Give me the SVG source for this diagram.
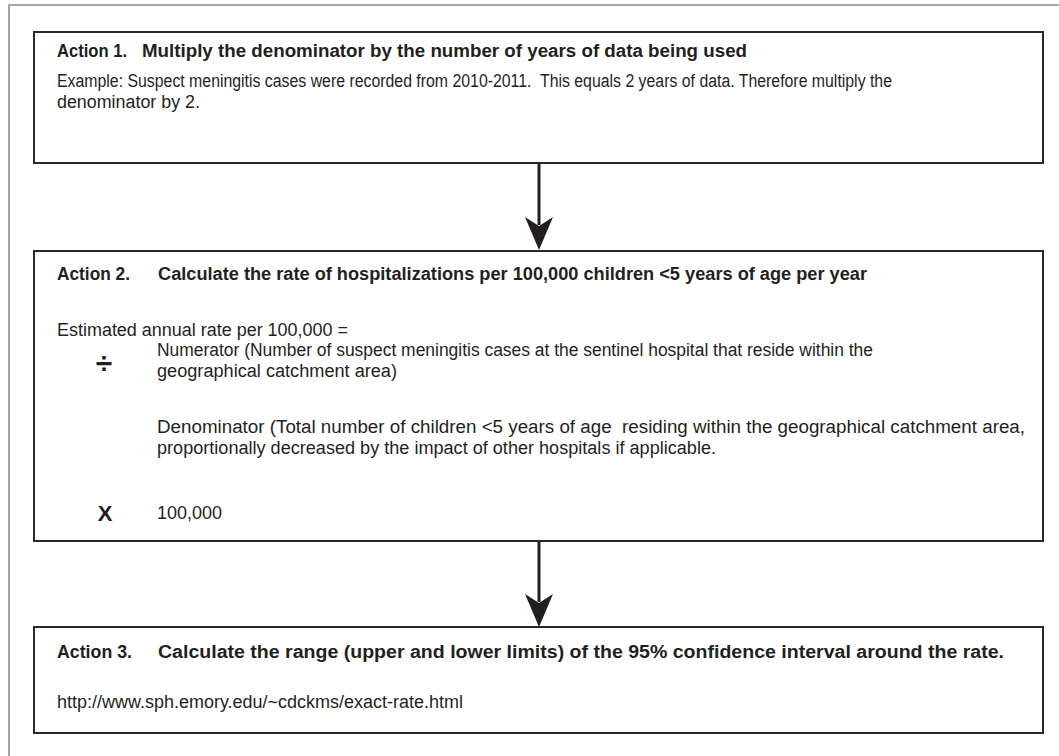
<svg xmlns="http://www.w3.org/2000/svg" width="1059" height="756" viewBox="0 0 1059 756">
<style>
.box{fill:#fff;stroke:#2a2a2a;stroke-width:2}
.t{font-family:"Liberation Sans",Arial,sans-serif;font-size:18px;fill:#231f20}
.b{font-weight:bold}
.sym{font-family:"Liberation Sans",Arial,sans-serif;font-weight:bold;fill:#231f20}
.conn{stroke:#231f20;stroke-width:3;fill:none}
.head{fill:#231f20}
</style>
<rect x="0" y="0" width="1059" height="756" fill="#fff"/>
<path d="M9,756 V5 H1059" fill="none" stroke="#8c8c8c" stroke-width="1.6"/>
<g id="action1">
<rect class="box" x="34" y="32" width="1009" height="131"/>
<text class="t b" x="57" y="57" textLength="70" lengthAdjust="spacingAndGlyphs">Action 1.</text>
<text class="t b" x="142" y="57" textLength="605" lengthAdjust="spacingAndGlyphs">Multiply the denominator by the number of years of data being used</text>
<text class="t" x="57" y="87" textLength="835" lengthAdjust="spacingAndGlyphs" xml:space="preserve">Example: Suspect meningitis cases were recorded from 2010-2011.  This equals 2 years of data. Therefore multiply the</text>
<text class="t" x="57" y="108" textLength="143" lengthAdjust="spacingAndGlyphs">denominator by 2.</text>
</g>
<g id="action2">
<rect class="box" x="34" y="251" width="1009" height="290"/>
<text class="t b" x="57" y="280" textLength="73" lengthAdjust="spacingAndGlyphs">Action 2.</text>
<text class="t b" x="158" y="280" textLength="709" lengthAdjust="spacingAndGlyphs">Calculate the rate of hospitalizations per 100,000 children &lt;5 years of age per year</text>
<text class="t" x="57" y="336" textLength="291" lengthAdjust="spacingAndGlyphs">Estimated annual rate per 100,000 =</text>
<text class="sym" x="104" y="373" font-size="30" text-anchor="middle">÷</text>
<text class="t" x="157" y="356" textLength="716" lengthAdjust="spacingAndGlyphs">Numerator (Number of suspect meningitis cases at the sentinel hospital that reside within the</text>
<text class="t" x="157" y="377" textLength="240" lengthAdjust="spacingAndGlyphs">geographical catchment area)</text>
<text class="t" x="157" y="433" textLength="868" lengthAdjust="spacingAndGlyphs" xml:space="preserve">Denominator (Total number of children &lt;5 years of age  residing within the geographical catchment area,</text>
<text class="t" x="157" y="454" textLength="559" lengthAdjust="spacingAndGlyphs">proportionally decreased by the impact of other hospitals if applicable.</text>
<text class="sym" x="105" y="521" font-size="22" text-anchor="middle">X</text>
<text class="t" x="157" y="519" textLength="65" lengthAdjust="spacingAndGlyphs">100,000</text>
</g>
<g id="action3">
<rect class="box" x="34" y="627" width="1009" height="106"/>
<text class="t b" x="57" y="658" textLength="75" lengthAdjust="spacingAndGlyphs">Action 3.</text>
<text class="t b" x="158" y="658" textLength="846" lengthAdjust="spacingAndGlyphs">Calculate the range (upper and lower limits) of the 95% confidence interval around the rate.</text>
<text class="t" x="57" y="708" textLength="406" lengthAdjust="spacingAndGlyphs">http://www.sph.emory.edu/~cdckms/exact-rate.html</text>
</g>
<g id="connectors">
<line class="conn" x1="539" y1="163" x2="539" y2="225"/>
<path class="head" d="M525,217 L539,226 L553,217 L539,250 Z"/>
<line class="conn" x1="539" y1="541" x2="539" y2="602"/>
<path class="head" d="M525,594 L539,603 L553,594 L539,627 Z"/>
</g>
</svg>
